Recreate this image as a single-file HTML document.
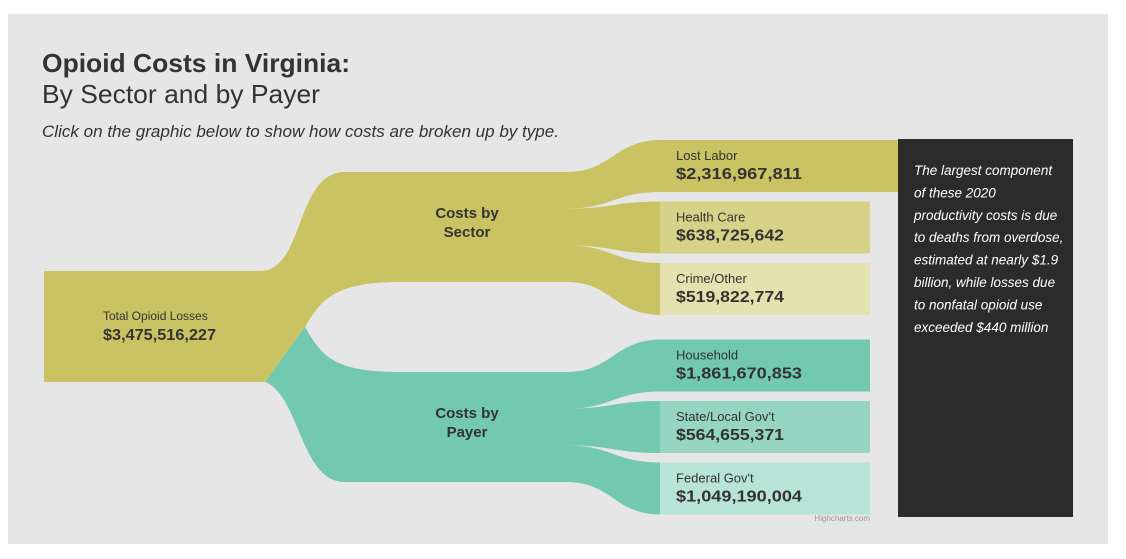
<!DOCTYPE html>
<html><head><meta charset="utf-8"><style>
html,body{margin:0;padding:0;background:#fff;}
svg{display:block;font-family:"Liberation Sans",sans-serif;}
</style></head><body>
<svg id="chart" width="1126" height="559" viewBox="0 0 1126 559">
<rect x="8" y="14" width="1100" height="530" fill="#e6e6e6"/>
<text x="42" y="72" font-size="26" font-weight="bold" fill="#333" textLength="308" lengthAdjust="spacingAndGlyphs">Opioid Costs in Virginia:</text>
<text x="42" y="103" font-size="26" fill="#333" textLength="278" lengthAdjust="spacingAndGlyphs">By Sector and by Payer</text>
<text x="42" y="137" font-size="17" font-style="italic" fill="#333" textLength="517" lengthAdjust="spacingAndGlyphs">Click on the graphic below to show how costs are broken up by type.</text>
<g id="links"></g>
<g id="nodes"></g>
<rect x="898" y="139" width="175" height="378" fill="#2b2b2b"/>
<g id="note" font-size="13.5" font-style="italic" fill="#fff"></g>
<text x="870" y="521" font-size="8" fill="#999" text-anchor="end">Highcharts.com</text>
</svg>
<script>
const leafNames = ["Lost Labor","Health Care","Crime/Other","Household","State/Local Gov't","Federal Gov't"];
const leafValues = [2316967811,638725642,519822774,1861670853,564655371,1049190004];
const leafGroup = [0,0,0,1,1,1];
const groupNames = [["Costs by","Sector"],["Costs by","Payer"]];
const totalValue = 3475516227;
const noteLines = ["The largest component","of these 2020","productivity costs is due","to deaths from overdose,","estimated at nearly $1.9","billion, while losses due","to nonfatal opioid use","exceeded $440 million"];

const NS="http://www.w3.org/2000/svg";
const fmt=v=>"$"+v.toLocaleString("en-US");
const leafColors=["#c9c363","#d6d389","#e5e2b0","#73c8b0","#95d5c1","#b8e4d7"];
const groupColors=["#c9c363","#73c8b0"];
function mk(tag,attrs,parent){const e=document.createElementNS(NS,tag);for(const k in attrs)e.setAttribute(k,attrs[k]);parent.appendChild(e);return e;}
const links=document.getElementById("links"),nodes=document.getElementById("nodes");
const leafTop=i=>140+i*61.5+(i>=3?15:0);
const leafH=52;
const groupTop=g=>g===0?172:372;
const groupH=110;
const totalTop=271,totalH=111;
const tn=mk("rect",{x:44,y:totalTop,width:217,height:totalH,fill:"#c9c363"},nodes);


{
 const p=mk("path",{d:`M260,${totalTop} C305,${totalTop} 295,172 345,172 L400,172 L400,282 C330,282 320,303 305,327 L265,382 L260,382 Z`,fill:groupColors[0]},links);
 
 
 const q=mk("path",{d:`M305,327 C322,357 335,372 400,372 L400,482 L345,482 C300,482 300,395 265,382 Z`,fill:groupColors[1]},links);
 
 
}
for(let g=0;g<2;g++){
 const r=mk("rect",{x:340,y:groupTop(g),width:230,height:groupH,fill:groupColors[g]},nodes);
 
 
 const t=mk("text",{x:467,y:groupTop(g)+46,"font-size":15,"font-weight":"bold",fill:"#333","text-anchor":"middle"},nodes);
 
 
 groupNames[g].forEach((s,k)=>{const ts=mk("tspan",{x:467,dy:k?19:0},t);ts.textContent=s;});
}
const cnt=[0,0];
leafNames.forEach((name,i)=>{
 const g=leafGroup[i],k=cnt[g]++;
 const sh=groupH/3,s0=groupTop(g)+k*sh,s1=s0+sh,t0=leafTop(i),t1=t0+leafH;
 const p=mk("path",{d:`M566,${s0} C613,${s0} 613,${t0} 662,${t0} L662,${t1} C613,${t1} 613,${s1} 566,${s1}Z`,fill:groupColors[g]},links);
 
 
 const w=i===0?238:210;
 const r=mk("rect",{x:660,y:t0,width:w,height:leafH,fill:leafColors[i]},nodes);
 
 
 const a=mk("text",{x:676,y:t0+20,"font-size":13,fill:"#333"},nodes);a.textContent=name;
 
 
 const b=mk("text",{x:676,y:t0+39,"font-size":16,"font-weight":"bold",fill:"#333",textLength:fmt(leafValues[i]).length*9.0,lengthAdjust:"spacingAndGlyphs"},nodes);b.textContent=fmt(leafValues[i]);
 
 
});
{
 const a=mk("text",{x:103,y:320,"font-size":12,fill:"#333"},nodes);a.textContent="Total Opioid Losses";
 
 
 const b=mk("text",{x:103,y:340,"font-size":16,"font-weight":"bold",fill:"#333",textLength:113,lengthAdjust:"spacingAndGlyphs"},nodes);b.textContent=fmt(totalValue);
 
 
}
const note=document.getElementById("note");
noteLines.forEach((s,i)=>{const t=mk("text",{x:914,y:175+i*22.4},note);t.textContent=s;
 
 });
</script>
</body></html>
